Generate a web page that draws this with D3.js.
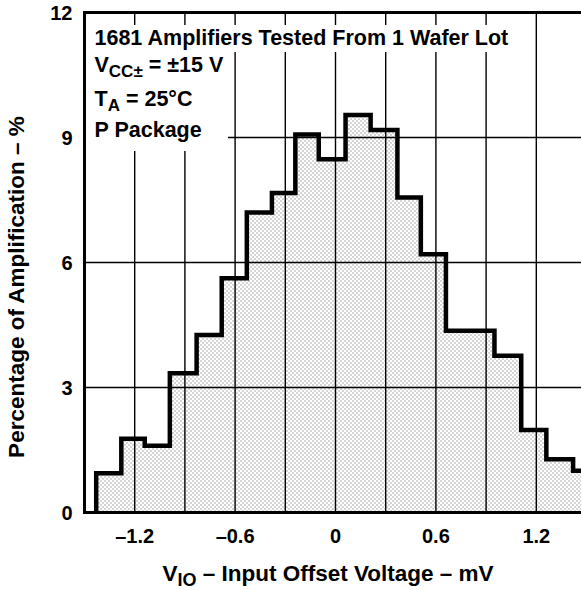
<!DOCTYPE html>
<html>
<head>
	<meta charset="utf-8">
	<title></title>
	<style>
	body { margin: 0; background: #fff; }
	svg { display: block; font-family: "Liberation Sans", Arial, sans-serif; font-weight: bold; }
	.grid line { stroke: #000; stroke-width: 1.4; }
	.tick-label { font-size: 20px; }
	.note { font-size: 21.5px; }
	.title { font-size: 22.5px; }
	</style>
</head>
<body>
	<script src="https://cdnjs.cloudflare.com/ajax/libs/d3/7.8.5/d3.min.js"></script>
	<script>
	// histogram bins (left edges, mV) and percentage per bin
	var binEdges = [-1.43, -1.28, -1.14, -0.99, -0.83, -0.68, -0.53, -0.38, -0.24, -0.10,
	                0.06, 0.21, 0.37, 0.51, 0.66, 0.81, 0.95, 1.11, 1.26, 1.42, 1.57];
	var percents = [0.94, 1.77, 1.60, 3.34, 4.26, 5.62, 7.20, 7.67, 9.07, 8.48,
	                9.54, 9.18, 7.56, 6.20, 4.36, 4.36, 3.76, 1.98, 1.28, 1.00];

	var xTicks = [-1.2, -0.6, 0, 0.6, 1.2];
	var xGrid = [-1.2, -0.9, -0.6, -0.3, 0, 0.3, 0.6, 0.9, 1.2];
	var yTicks = [0, 3, 6, 9, 12];
	var yGrid = [3, 6, 9];
	var notes = ["1681 Amplifiers Tested From 1 Wafer Lot", "V|CC±| = ±15 V", "T|A| = 25°C", "P Package"];

	// set the dimensions of the canvas
	var margin = {top: 12.5, left: 84.5},
		width = 502,
		height = 500;

	var x = d3.scaleLinear().domain([-1.5, 1.5]).range([0, width]),
		y = d3.scaleLinear().domain([0, 12]).range([height, 0]);

	var svg = d3.select("body").append("svg")
		.attr("width", 581)
		.attr("height", 590);

	var defs = svg.append("defs");
	var pat = defs.append("pattern")
		.attr("id", "dots")
		.attr("patternUnits", "userSpaceOnUse")
		.attr("width", 4).attr("height", 4);
	pat.append("rect").attr("width", 4).attr("height", 4).attr("fill", "#fff");
	pat.append("rect").attr("x", 0).attr("y", 0).attr("width", 1).attr("height", 1).attr("fill", "#555");
	pat.append("rect").attr("x", 2).attr("y", 2).attr("width", 1).attr("height", 1).attr("fill", "#555");

	defs.append("clipPath").attr("id", "plot")
		.append("rect").attr("width", width).attr("height", height);

	var g = svg.append("g")
		.attr("transform", "translate(" + margin.left + "," + margin.top + ")");

	// step outline points
	var pts = [[binEdges[0], 0]];
	percents.forEach(function(v, i){
		pts.push([binEdges[i], v]);
		pts.push([binEdges[i + 1], v]);
	});
	pts.push([binEdges[binEdges.length - 1], 0]);

	var line = d3.line()
		.x(function(d){ return x(d[0]); })
		.y(function(d){ return y(d[1]); });

	var plot = g.append("g").attr("clip-path", "url(#plot)");

	// filled area
	plot.append("path")
		.attr("d", line(pts) + "Z")
		.attr("fill", "url(#dots)");

	// grid
	var grid = plot.append("g").attr("class", "grid");
	grid.selectAll(".gx").data(xGrid).enter().append("line")
		.attr("x1", function(d){ return x(d); })
		.attr("x2", function(d){ return x(d); })
		.attr("y1", 0).attr("y2", height);
	grid.selectAll(".gy").data(yGrid).enter().append("line")
		.attr("y1", function(d){ return y(d); })
		.attr("y2", function(d){ return y(d); })
		.attr("x1", 0).attr("x2", width);

	// notes with white backgrounds
	var noteG = g.append("g").attr("class", "note");
	var baselines = [32.5, 59.5, 93.5, 124];
	var texts = notes.map(function(s, i){
		var t = noteG.append("text")
			.attr("x", 10)
			.attr("y", baselines[i]);
		s.split("|").forEach(function(part, k){
			if (!part) return;
			var ts = t.append("tspan").text(part);
			if (k === 1) ts.attr("dy", 5).style("font-size", "17px");
			if (k === 2) ts.attr("dy", -5);
		});
		return t;
	});
	var rights = texts.map(function(t){ var b = t.node().getBBox(); return b.x + b.width; });
	var shared = d3.max(rights.slice(1)) + 4;
	// row 1 box, then one box for rows 2-4
	noteG.insert("rect", "text")
		.attr("x", 1.5).attr("y", 12.5)
		.attr("width", rights[0] + 4 - 1.5).attr("height", 27)
		.attr("fill", "#fff");
	noteG.insert("rect", "text")
		.attr("x", 1.5).attr("y", 39.5)
		.attr("width", shared - 1.5).attr("height", 99)
		.attr("fill", "#fff");

	// step outline
	plot.append("path")
		.attr("d", line(pts.slice(0, pts.length - 1)))
		.attr("fill", "none")
		.attr("stroke", "#000")
		.attr("stroke-width", 4.5)
		.attr("stroke-linejoin", "miter");

	// frame
	g.append("path")
		.attr("d", "M" + (width + 2) + ",0H0V" + height + "H" + (width + 2))
		.attr("fill", "none")
		.attr("stroke", "#000")
		.attr("stroke-width", 3);

	// tick labels
	g.selectAll(".xl").data(xTicks).enter().append("text")
		.attr("class", "tick-label")
		.attr("x", function(d){ return x(d); })
		.attr("y", height + 30)
		.attr("text-anchor", "middle")
		.text(function(d){ return (d < 0 ? "–" : "") + Math.abs(d); });

	g.selectAll(".yl").data(yTicks).enter().append("text")
		.attr("class", "tick-label")
		.attr("x", -12)
		.attr("y", function(d){ return y(d) + 7; })
		.attr("text-anchor", "end")
		.text(function(d){ return d; });

	// axis titles
	var xt = svg.append("text")
		.attr("class", "title")
		.attr("x", 328)
		.attr("y", 581)
		.attr("text-anchor", "middle");
	xt.append("tspan").text("V");
	xt.append("tspan").attr("dy", 5).style("font-size", "18px").text("IO");
	xt.append("tspan").attr("dy", -5).text(" – Input Offset Voltage – mV");

	svg.append("text")
		.attr("class", "title")
		.attr("transform", "translate(24,287) rotate(-90)")
		.attr("text-anchor", "middle")
		.text("Percentage of Amplification – %");
	</script>
</body>
</html>
